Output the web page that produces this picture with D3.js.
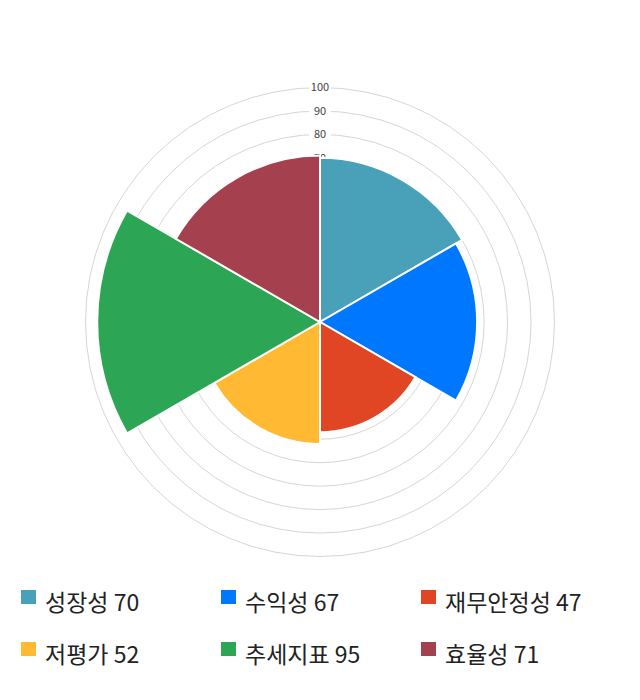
<!DOCTYPE html>
<html>
<head>
<meta charset="utf-8">
<style>
    body { margin: 0; background: #fff; }
    .grid { fill: none; stroke: #d6d6d6; stroke-width: 1; }
    .tick_label { font-family: "Noto Sans CJK KR", "Noto Sans", sans-serif; font-size: 11px; fill: #444; }
    .legend_label { font-family: "Noto Sans CJK KR", sans-serif; font-size: 23px; fill: #222; }
</style>
</head>
<body>
<div id="chart"></div>
<script src="https://cdn.jsdelivr.net/npm/d3@7/dist/d3.min.js"></script>
<script>

// data
const categories = ['성장성', '수익성', '재무안정성', '저평가', '추세지표', '효율성'];
const values = [70, 67, 47, 52, 95, 71];
const colors = ['#48a1b9', '#0077ff', '#e04524', '#ffb933', '#2ca654', '#a5404f'];
const ticks = [10, 20, 30, 40, 50, 60, 70, 80, 90, 100];

const W = 640, H = 700;
const cx = 320, cy = 322;
const R = 234.5;

const svg = d3.select('#chart').append('svg')
    .attr('width', W)
    .attr('height', H);

const r = d3.scaleLinear().domain([0, 100]).range([0, R]);
const angle = d3.scaleBand().domain(categories).range([0, 2 * Math.PI]).padding(0);

const g = svg.append('g').attr('transform', `translate(${cx}, ${cy})`);

// cercles de grille
g.selectAll('circle.grid')
    .data(ticks)
    .enter().append('circle')
    .classed('grid', true)
    .attr('r', d => r(d));

// labels des ticks (sous les secteurs, comme la reference)
const tl = g.selectAll('g.tick')
    .data(ticks)
    .enter().append('g')
    .attr('transform', d => `translate(0, ${-r(d)})`);
tl.append('rect')
    .attr('x', -11).attr('y', -6)
    .attr('width', 22).attr('height', 12)
    .attr('fill', '#fff');
tl.append('text')
    .classed('tick_label', true)
    .attr('text-anchor', 'middle')
    .attr('dy', '0.35em')
    .text(d => d);

// secteurs
const arc = d3.arc()
    .innerRadius(0)
    .outerRadius(d => r(d.value))
    .startAngle(d => angle(d.cat))
    .endAngle(d => angle(d.cat) + angle.bandwidth());

g.selectAll('path.sector')
    .data(categories.map((c, i) => ({cat: c, value: values[i], color: colors[i]})))
    .enter().append('path')
    .classed('sector', true)
    .attr('d', arc)
    .attr('fill', d => d.color)
    .attr('stroke', '#fff')
    .attr('stroke-width', 2);

// legende
const cols = [21, 221, 421];
const rows = [590, 642];
const legend = svg.selectAll('g.legend')
    .data(categories)
    .enter().append('g')
    .attr('transform', (d, i) => `translate(${cols[i % 3]}, ${rows[Math.floor(i / 3)]})`);
legend.append('rect')
    .attr('width', 15).attr('height', 14)
    .attr('fill', (d, i) => colors[i]);
legend.append('text')
    .classed('legend_label', true)
    .attr('x', 24)
    .attr('y', 21)
    .text((d, i) => `${d} ${values[i]}`);

</script>
</body>
</html>
